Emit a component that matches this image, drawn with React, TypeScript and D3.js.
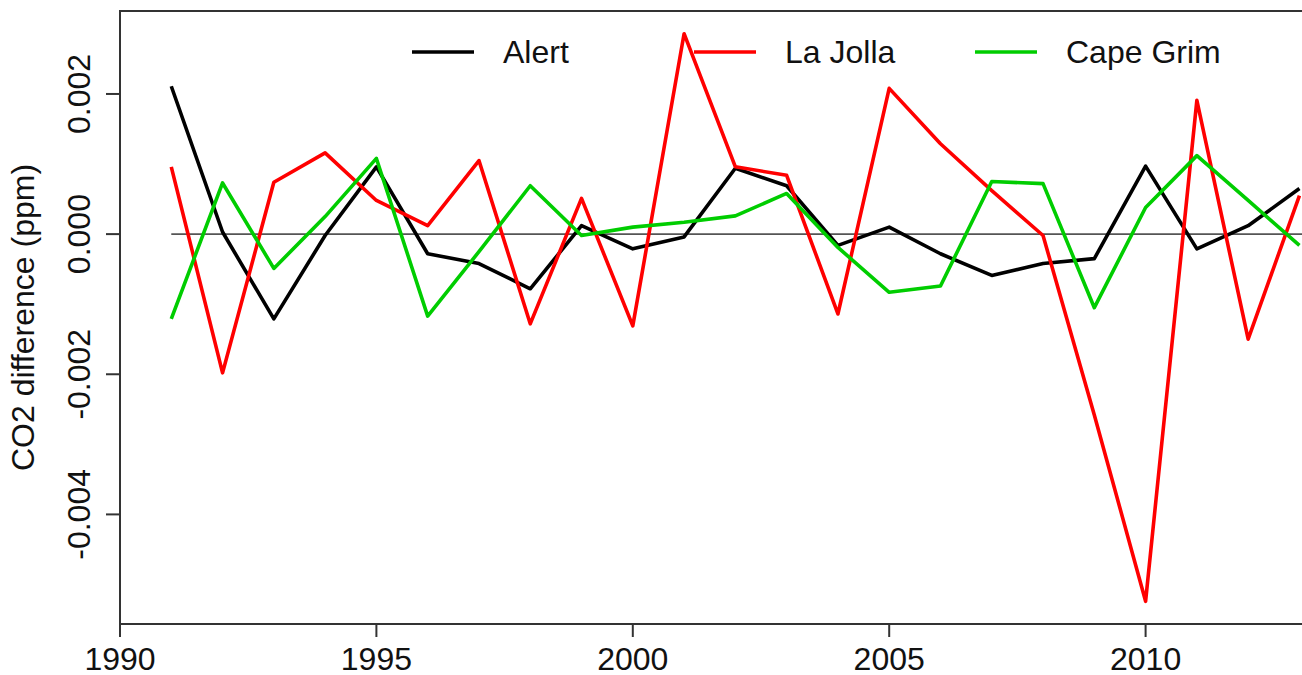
import React from "react";
import * as d3 from "d3";

const years = [1991,1992,1993,1994,1995,1996,1997,1998,1999,2000,2001,2002,2003,2004,2005,2006,2007,2008,2009,2010,2011,2012,2013];
const alert = [0.00211,0.00003,-0.00121,-0.00002,0.00096,-0.00028,-0.00042,-0.00078,0.00012,-0.00021,-0.00004,0.00094,0.00069,-0.00016,0.0001,-0.00028,-0.00059,-0.00042,-0.00035,0.00097,-0.00021,0.00012,0.00065];
const laJolla = [0.00096,-0.00198,0.00074,0.00116,0.00048,0.00012,0.00105,-0.00128,0.00051,-0.00131,0.00286,0.00096,0.00084,-0.00114,0.00208,0.00129,0.00062,-0.00002,-0.00258,-0.00524,0.00191,-0.0015,0.00055];
const capeGrim = [-0.00121,0.00073,-0.00049,0.00025,0.00108,-0.00117,-0.00025,0.00069,-0.00002,0.0001,0.00017,0.00026,0.00058,-0.00019,-0.00083,-0.00074,0.00075,0.00072,-0.00105,0.00038,0.00112,0.00048,-0.00016];
const seriesNames = ["Alert", "La Jolla", "Cape Grim"];
const seriesColors = ["#000000", "#ff0000", "#00cd00"];
const xTicks = [1990, 1995, 2000, 2005, 2010];
const yTicks = [0.002, 0, -0.002, -0.004];
const yTickLabels = ["0.002", "0.000", "-0.002", "-0.004"];

export default function App() {
  const W = 1302, H = 675;
  const left = 120, right = 1402, top = 11, bottom = 624;
  const x = d3.scaleLinear().domain([1990, 2015]).range([left, right]);
  const y = d3.scaleLinear().domain([-0.005564, 0.003184]).range([bottom, top]);
  const all = [alert, laJolla, capeGrim];
  const line = d3.line<number>().x((_, i) => x(years[i])).y((v) => y(v));
  const font = "'Liberation Sans', Arial, sans-serif";
  const legendX = [412, 694, 975];

  return (
    <svg width={W} height={H} style={{ position: "absolute", left: 0, top: 0, background: "#fff" }} fontFamily={font}>
      <line x1={x(years[0])} x2={x(years[years.length - 1]) + 10} y1={y(0)} y2={y(0)} stroke="#555" strokeWidth={1.6} />
      {all.map((s, k) => (
        <path key={k} d={line(s) || ""} fill="none" stroke={seriesColors[k]} strokeWidth={3.6} strokeLinejoin="round" />
      ))}
      <rect x={left} y={top} width={right - left} height={bottom - top} fill="none" stroke="#333" strokeWidth={2} />
      {yTicks.map((t, i) => (
        <g key={t}>
          <line x1={left - 14} x2={left} y1={y(t)} y2={y(t)} stroke="#333" strokeWidth={2} />
          <text transform={`translate(90,${y(t)}) rotate(-90)`} textAnchor="middle" fontSize={32} fill="#111">{yTickLabels[i]}</text>
        </g>
      ))}
      {xTicks.map((t) => (
        <g key={t}>
          <line x1={x(t)} x2={x(t)} y1={bottom} y2={bottom + 13} stroke="#333" strokeWidth={2} />
          <text x={x(t)} y={670} textAnchor="middle" fontSize={32} fill="#111">{t}</text>
        </g>
      ))}
      <text transform={`translate(34,${(top + bottom) / 2}) rotate(-90)`} textAnchor="middle" fontSize={32} fill="#111">CO2 difference (ppm)</text>
      {seriesNames.map((n, k) => (
        <g key={n}>
          <line x1={legendX[k]} x2={legendX[k] + 62} y1={52} y2={52} stroke={seriesColors[k]} strokeWidth={3.6} />
          <text x={legendX[k] + 91} y={63} fontSize={32} fill="#111">{n}</text>
        </g>
      ))}
    </svg>
  );
}
